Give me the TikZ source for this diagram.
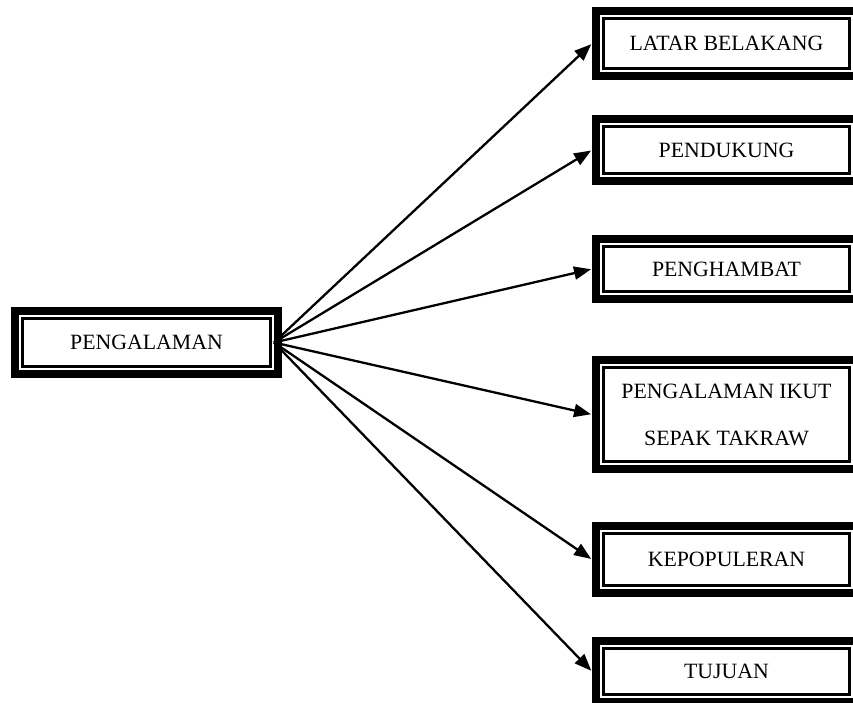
\documentclass[tikz,border=0pt]{standalone}
\usepackage{fontspec}
\setmainfont{Liberation Serif}
\usetikzlibrary{arrows.meta}
\tikzset{
  framebox/.style={draw=black, line width=8pt, fill=white, inner sep=0pt,
    font=\fontsize{21.8}{47}\selectfont, align=center,
    path picture={\draw[line width=2.3pt]
      ([shift={(7.5pt,7.5pt)}]path picture bounding box.south west) rectangle
      ([shift={(-7.5pt,-7.5pt)}]path picture bounding box.north east);}},
  link/.style={line width=2.3pt, -{Triangle[length=17pt,width=13pt]}, shorten >=1pt}
}
\begin{document}
\begin{tikzpicture}[x=1pt,y=-1pt]
\useasboundingbox (0,0) rectangle (853,702);
\clip (0,0) rectangle (853,702);
\node[framebox, minimum width=263pt, minimum height=63pt] (src) at (146.5,342.5) {PENGALAMAN};
\node[framebox, minimum width=261pt, minimum height=65pt] (t1) at (726.5,43.5) {LATAR BELAKANG};
\node[framebox, minimum width=261pt, minimum height=62pt] (t2) at (726.5,150) {PENDUKUNG};
\node[framebox, minimum width=261pt, minimum height=60pt] (t3) at (726.5,269) {PENGHAMBAT};
\node[framebox, minimum width=261pt, minimum height=109pt] (t4) at (726.5,414.5) {PENGALAMAN IKUT\\SEPAK TAKRAW};
\node[framebox, minimum width=261pt, minimum height=67pt] (t5) at (726.5,559.5) {KEPOPULERAN};
\node[framebox, minimum width=261pt, minimum height=61pt] (t6) at (726.5,671.5) {TUJUAN};
\coordinate (hub) at ([xshift=-8pt]src.east);
\foreach \t in {t1,t2,t3,t4,t5,t6}
  \draw[link] (hub) -- (\t.west);
\end{tikzpicture}
\end{document}
